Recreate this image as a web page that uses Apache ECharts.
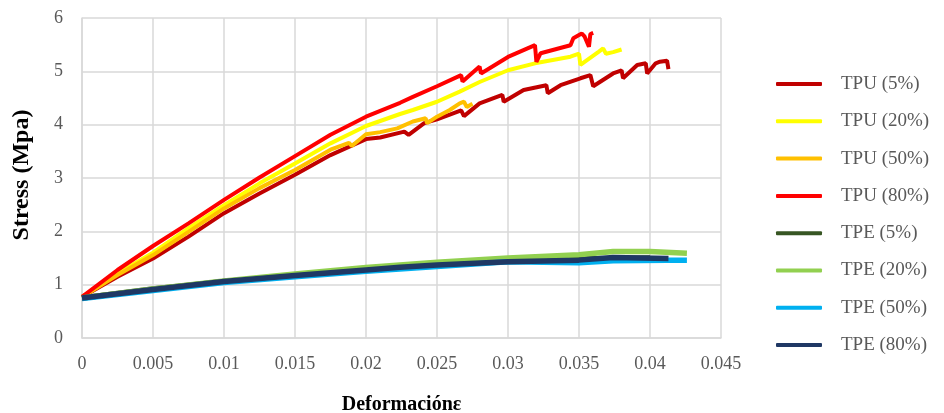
<!DOCTYPE html>
<html>
<head>
<meta charset="utf-8">
<script src="https://cdn.jsdelivr.net/npm/echarts@6/dist/echarts.min.js"></script>
<style>
    html, body { margin: 0; padding: 0; background: #fff; }
    #main { width: 944px; height: 413px; }
</style>
</head>
<body>
<div id="main"></div>
<script>
    // datos: [deformacion, stress]
    var seriesNames = ['TPU (5%)', 'TPU (20%)', 'TPU (50%)', 'TPU (80%)', 'TPE (5%)', 'TPE (20%)', 'TPE (50%)', 'TPE (80%)'];
    var xTicks = [0, 0.005, 0.01, 0.015, 0.02, 0.025, 0.03, 0.035, 0.04, 0.045];
    var yTicks = [0, 1, 2, 3, 4, 5, 6];

    var tpu5 = [[0, 0.77], [0.0025, 1.15], [0.005, 1.49], [0.0075, 1.90], [0.01, 2.34], [0.0125, 2.71], [0.015, 3.06],
        [0.0175, 3.43], [0.02, 3.73], [0.021, 3.76], [0.0227, 3.87], [0.023, 3.81], [0.0241, 4.03], [0.025, 4.10],
        [0.0267, 4.27], [0.0269, 4.16], [0.028, 4.40], [0.0296, 4.56], [0.0297, 4.43], [0.0311, 4.65], [0.0327, 4.74],
        [0.0328, 4.59], [0.0337, 4.74], [0.0351, 4.87], [0.0358, 4.93], [0.036, 4.72], [0.0374, 4.96], [0.038, 5.02],
        [0.0381, 4.87], [0.0391, 5.12], [0.0397, 5.15], [0.0398, 4.96], [0.0404, 5.15], [0.0407, 5.18], [0.0412, 5.20],
        [0.0413, 5.04]];
    var tpu20 = [[0, 0.77], [0.0025, 1.21], [0.005, 1.60], [0.0075, 2.06], [0.01, 2.49], [0.0125, 2.90], [0.015, 3.27],
        [0.0175, 3.65], [0.02, 3.975], [0.0224, 4.20], [0.0233, 4.275], [0.025, 4.43], [0.0266, 4.62], [0.028, 4.80],
        [0.03, 5.02], [0.0319, 5.15], [0.0344, 5.275], [0.035, 5.33], [0.0351, 5.12], [0.0364, 5.37], [0.0367, 5.43],
        [0.0369, 5.33], [0.0374, 5.36], [0.038, 5.41]];
    var tpu50 = [[0, 0.77], [0.0025, 1.18], [0.005, 1.555], [0.0075, 1.99], [0.01, 2.43], [0.0125, 2.81], [0.015, 3.15],
        [0.0175, 3.53], [0.0188, 3.66], [0.019, 3.60], [0.02, 3.82], [0.021, 3.86], [0.0222, 3.93], [0.0233, 4.06],
        [0.0242, 4.12], [0.0243, 4.03], [0.025, 4.15], [0.0259, 4.275], [0.0266, 4.40], [0.0269, 4.43], [0.0271, 4.33],
        [0.0275, 4.39]];
    var tpu80 = [[0, 0.77], [0.0025, 1.275], [0.005, 1.725], [0.0075, 2.15], [0.01, 2.59], [0.0125, 3.01], [0.015, 3.41],
        [0.0175, 3.81], [0.02, 4.15], [0.0224, 4.41], [0.0233, 4.52], [0.025, 4.72], [0.0267, 4.93], [0.0268, 4.81],
        [0.028, 5.09], [0.0281, 4.96], [0.03, 5.27], [0.0319, 5.49], [0.032, 5.18], [0.0323, 5.34], [0.0344, 5.49],
        [0.0346, 5.62], [0.035, 5.68], [0.0352, 5.71], [0.0354, 5.65], [0.0357, 5.46], [0.0358, 5.70], [0.036, 5.72]];
    var tpe5 = [[0, 0.75], [0.005, 0.92], [0.01, 1.06], [0.015, 1.18], [0.02, 1.28], [0.025, 1.38], [0.03, 1.44],
        [0.035, 1.48], [0.04, 1.50]];
    var tpe20 = [[0, 0.75], [0.005, 0.92], [0.01, 1.07], [0.015, 1.20], [0.02, 1.32], [0.025, 1.42], [0.03, 1.50],
        [0.035, 1.56], [0.0374, 1.62], [0.04, 1.62], [0.0426, 1.59]];
    var tpe50 = [[0, 0.74], [0.005, 0.89], [0.01, 1.04], [0.015, 1.15], [0.02, 1.25], [0.025, 1.34], [0.03, 1.43],
        [0.035, 1.41], [0.0374, 1.45], [0.0412, 1.46], [0.0426, 1.46]];
    var tpe80 = [[0, 0.75], [0.005, 0.91], [0.01, 1.06], [0.015, 1.17], [0.02, 1.275], [0.0224, 1.325], [0.025, 1.37],
        [0.03, 1.43], [0.035, 1.46], [0.0374, 1.51], [0.0413, 1.49]];

    var allData = [tpu5, tpu20, tpu50, tpu80, tpe5, tpe20, tpe50, tpe80];
    var colors = ['#C00000', '#FFFF00', '#FFC000', '#FF0000', '#375623', '#92D050', '#00B0F0', '#1F3864'];
    var widths = [4, 4, 4, 4, 5.5, 5.5, 5.5, 5.5];

    var series = [];
    for (var i = 0; i < seriesNames.length; i++) {
        series.push({
            name: seriesNames[i],
            type: 'line',
            data: allData[i],
            symbol: 'none',
            color: colors[i],
            lineStyle: { width: widths[i], color: colors[i] }
        });
    }

    var font = 'Liberation Serif, Times New Roman, serif';
    var option = {
        animation: false,
        color: colors,
        grid: { left: 82, right: 223, top: 18, bottom: 75, outerBoundsMode: 'none' },
        xAxis: {
            type: 'value',
            min: xTicks[0],
            max: xTicks[xTicks.length - 1],
            interval: 0.005,
            name: 'Deformaciónε',
            nameLocation: 'middle',
            nameGap: 57,
            nameTextStyle: { fontFamily: font, fontWeight: 'bold', fontSize: 20, color: '#000' },
            axisLine: { show: true, lineStyle: { color: '#D9D9D9', width: 1.5 } },
            axisTick: { show: false },
            splitLine: { show: true, lineStyle: { color: '#D9D9D9', width: 1.5 } },
            axisLabel: { fontFamily: font, fontSize: 18, color: '#595959', margin: 17 }
        },
        yAxis: {
            type: 'value',
            min: yTicks[0],
            max: yTicks[yTicks.length - 1],
            interval: 1,
            name: 'Stress (Mpa)',
            nameLocation: 'middle',
            nameGap: 48,
            nameTextStyle: { fontFamily: font, fontWeight: 'bold', fontSize: 24, color: '#000', padding: [0, 0, 0, 6] },
            axisLine: { show: true, lineStyle: { color: '#D9D9D9', width: 1.5 } },
            axisTick: { show: false },
            splitLine: { show: true, lineStyle: { color: '#D9D9D9', width: 1.5 } },
            axisLabel: { fontFamily: font, fontSize: 18, color: '#595959', margin: 19 }
        },
        legend: {
            orient: 'vertical',
            left: 771,
            top: 69,
            icon: 'roundRect',
            itemWidth: 46,
            itemHeight: 4,
            itemGap: 17.3,
            textStyle: { fontFamily: font, fontSize: 19, color: '#595959', lineHeight: 20, padding: [0, 0, 0, 14] },
            data: seriesNames
        },
        series: series
    };

    var myChart = echarts.init(document.getElementById('main'));
    myChart.setOption(option);
</script>
</body>
</html>
